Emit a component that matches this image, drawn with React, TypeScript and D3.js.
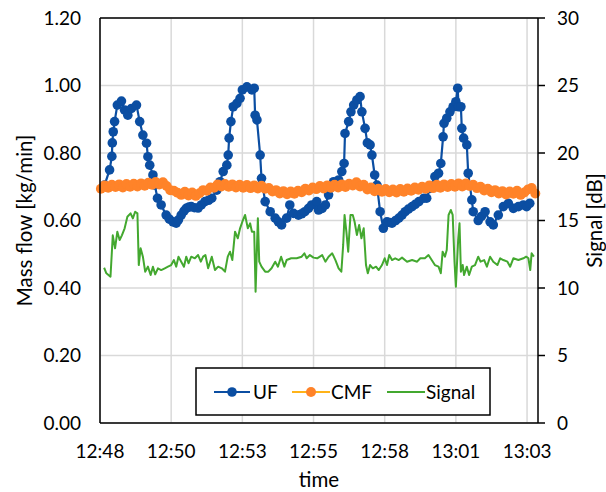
import { useMemo } from "react";
import * as d3 from "d3";

const WIDTH = 606;
const HEIGHT = 492;
const MARGIN = { top: 18, right: 68, bottom: 69, left: 100 };
const FONT = "Lato, 'Open Sans', sans-serif";
const TICK_FS = 19;
const TITLE_FS = 20.5;

// seconds after 12:48:00
const timeTickSec = [0, 156, 312, 468, 624, 780, 936];
const timeTickLabels = ["12:48", "12:50", "12:53", "12:55", "12:58", "13:01", "13:03"];
const massTicks = [0, 0.2, 0.4, 0.6, 0.8, 1.0, 1.2];
const dbTicks = [0, 5, 10, 15, 20, 25, 30];

const ufSec = [
  10, 21, 26, 27, 29, 32, 38, 47, 54, 61, 69, 80, 87, 94, 102, 105, 109, 116, 120, 126,
  134, 145, 152, 160, 167, 172, 178, 184, 189, 195, 200, 207, 215, 222, 230, 238, 245, 256, 263, 270,
  278, 281, 283, 287, 292, 300, 307, 312, 322, 333, 338, 340, 344, 351, 354, 362, 373, 384, 391, 398,
  409, 416, 424, 435, 442, 449, 457, 464, 475, 479, 487, 494, 501, 512, 523, 530, 535, 537, 545, 550,
  556, 563, 570, 574, 581, 586, 592, 596, 602, 607, 614, 621, 629, 635, 640, 648, 655, 662, 669, 676,
  684, 691, 699, 710, 716, 723, 734, 742, 747, 752, 754, 760, 767, 774, 780, 784, 786, 791, 793, 797,
  804, 807, 815, 818, 829, 836, 844, 855, 862, 873, 884, 895, 906, 917, 928, 935, 942,
];
const ufMass = [
  0.705, 0.75, 0.79, 0.83, 0.863, 0.893, 0.942, 0.954, 0.927, 0.912, 0.932, 0.942, 0.893, 0.853, 0.829, 0.789, 0.764, 0.735, 0.705, 0.666,
  0.646, 0.616, 0.604, 0.596, 0.592, 0.602, 0.616, 0.628, 0.636, 0.64, 0.641, 0.638, 0.637, 0.646, 0.656, 0.66, 0.666, 0.69, 0.715, 0.745,
  0.764, 0.794, 0.844, 0.893, 0.937, 0.947, 0.962, 0.987, 0.996, 0.987, 0.992, 0.912, 0.898, 0.794, 0.725, 0.656, 0.626, 0.607, 0.596, 0.587,
  0.607, 0.646, 0.621, 0.616, 0.62, 0.626, 0.636, 0.646, 0.656, 0.631, 0.636, 0.646, 0.676, 0.715, 0.72, 0.745, 0.769, 0.858, 0.893, 0.922,
  0.942, 0.957, 0.967, 0.922, 0.873, 0.83, 0.824, 0.794, 0.735, 0.705, 0.626, 0.577, 0.596, 0.594, 0.592, 0.6, 0.607, 0.616, 0.626, 0.634,
  0.641, 0.648, 0.656, 0.666, 0.666, 0.695, 0.73, 0.74, 0.769, 0.848, 0.888, 0.903, 0.922, 0.937, 0.952, 0.992, 0.937, 0.937, 0.873, 0.844,
  0.824, 0.74, 0.661, 0.626, 0.6, 0.612, 0.626, 0.596, 0.587, 0.616, 0.641, 0.651, 0.636, 0.641, 0.646, 0.641, 0.651,
];

const CMF_START = 2;
const CMF_STEP = 8;
const cmfMass = [
  0.694, 0.704, 0.697, 0.706, 0.699, 0.707, 0.698, 0.708, 0.7, 0.709, 0.701, 0.71, 0.703,
  0.712, 0.706, 0.714, 0.707, 0.713,
  0.702, 0.69, 0.688,
  0.682, 0.676, 0.685, 0.674, 0.683, 0.673, 0.681,
  0.69, 0.688, 0.698, 0.697, 0.707, 0.701, 0.708,
  0.7, 0.707, 0.698, 0.706, 0.697, 0.705, 0.696, 0.704, 0.695, 0.703, 0.694,
  0.696, 0.686, 0.69, 0.68, 0.687, 0.678, 0.686, 0.679, 0.688, 0.684,
  0.694, 0.689, 0.698, 0.693, 0.702,
  0.695, 0.704, 0.697, 0.706, 0.698, 0.707, 0.699, 0.709, 0.704, 0.713,
  0.701, 0.706, 0.692, 0.698, 0.687, 0.694, 0.685, 0.693, 0.684, 0.692, 0.683, 0.693, 0.685, 0.695, 0.688, 0.698, 0.691,
  0.7, 0.694, 0.704, 0.696, 0.706, 0.697, 0.707, 0.699, 0.708, 0.7, 0.71, 0.701, 0.71, 0.702,
  0.706, 0.696, 0.7, 0.689, 0.694, 0.684, 0.69, 0.68, 0.687, 0.677, 0.686, 0.679, 0.688, 0.676, 0.683, 0.692, 0.696, 0.68,
];

const sigSec = [
  9, 14, 23, 28, 33, 38, 43, 48, 54, 60, 67, 72, 77, 82, 85, 89, 94, 99, 105, 111,
  116, 121, 127, 134, 142, 149, 156, 162, 167, 172, 178, 184, 189, 194, 200, 208, 215, 221, 226, 231,
  237, 245, 252, 259, 267, 274, 280, 285, 290, 296, 302, 307, 312, 318, 324, 329, 333, 338, 341, 346,
  349, 354, 362, 369, 376, 384, 390, 397, 404, 409, 419, 431, 442, 448, 453, 460, 468, 476, 487, 494,
  501, 509, 516, 523, 529, 533, 536, 540, 544, 549, 554, 558, 563, 568, 573, 578, 583, 587, 592, 598,
  605, 611, 618, 624, 629, 634, 640, 647, 655, 662, 673, 684, 695, 702, 712, 720, 727, 734, 742, 747,
  751, 756, 760, 764, 769, 773, 777, 780, 785, 788, 791, 795, 798, 804, 809, 815, 822, 829, 834, 842,
  848, 855, 862, 871, 877, 884, 893, 899, 906, 917, 928, 934, 939, 943, 946, 951,
];
const sigDb = [
  11.5, 11.09, 10.84, 13.9, 12.94, 14.17, 13.56, 13.9, 14.42, 15.28, 15.53, 15.16, 15.65, 15.53, 11.7, 12.94, 12.32, 11.21, 11.58, 10.96,
  11.58, 11.01, 11.46, 11.33, 11.46, 11.58, 11.7, 12.07, 11.58, 12.32, 11.95, 11.58, 12.32, 11.83, 12.32, 12.2, 12.44, 11.95, 12.32, 12.44,
  11.46, 12.32, 11.33, 11.58, 11.46, 11.21, 12.32, 12.69, 12.07, 14.17, 13.68, 14.42, 14.91, 15.41, 14.42, 14.79, 14.17, 14.17, 9.73, 15.16,
  11.95, 11.58, 11.21, 11.21, 11.46, 11.95, 11.58, 12.32, 11.58, 12.07, 12.2, 12.2, 12.32, 12.57, 12.2, 12.44, 12.25, 12.2, 12.44, 11.95,
  12.32, 12.57, 12.07, 11.46, 11.21, 13.19, 15.41, 14.17, 12.69, 15.41, 15.41, 14.91, 13.93, 14.67, 13.68, 14.42, 11.7, 11.09, 11.7, 11.46,
  11.58, 11.33, 11.7, 12.2, 11.7, 12.44, 12.07, 12.2, 12.07, 12.25, 11.95, 12.07, 11.95, 12.2, 12.2, 12.44, 12.07, 11.7, 11.58, 11.09,
  12.69, 12.32, 12.81, 15.41, 15.78, 15.41, 11.95, 10.1, 13.56, 14.79, 11.21, 11.7, 10.96, 11.58, 10.96, 11.58, 11.7, 12.32, 11.95, 12.07,
  11.58, 12.32, 11.95, 11.7, 12.2, 12.07, 11.95, 11.58, 12.2, 12.07, 12.2, 12.32, 12.2, 11.33, 12.57, 12.32,
];

const UF_COLOR = "#0B4EA2";
const CMF_COLOR = "#FF8329";
const CMF_LINE = "#FFB319";
const SIG_COLOR = "#43A82F";
const GRID = "#D9D9D9";

export default function App() {
  const boundsWidth = WIDTH - MARGIN.left - MARGIN.right;
  const boundsHeight = HEIGHT - MARGIN.top - MARGIN.bottom;

  const xScale = useMemo(() => d3.scaleLinear().domain([0, 960]).range([0, boundsWidth]), [boundsWidth]);
  const yMass = useMemo(() => d3.scaleLinear().domain([0, 1.2]).range([boundsHeight, 0]), [boundsHeight]);
  const yDb = useMemo(() => d3.scaleLinear().domain([0, 30]).range([boundsHeight, 0]), [boundsHeight]);

  const ufPath = d3.line<number>().x((_, i) => xScale(ufSec[i])).y((d) => yMass(d))(ufMass) ?? "";
  const cmfPath =
    d3.line<number>().x((_, i) => xScale(CMF_START + i * CMF_STEP)).y((d) => yMass(d))(cmfMass) ?? "";
  const sigPath = d3.line<number>().x((_, i) => xScale(sigSec[i])).y((d) => yDb(d))(sigDb) ?? "";

  const legendY = 374;

  return (
    <svg
      width={WIDTH}
      height={HEIGHT}
      style={{ position: "absolute", left: 0, top: 0, background: "#fff" }}
      fontFamily={FONT}
    >
      <g transform={`translate(${MARGIN.left}, ${MARGIN.top})`}>
        {/* grid */}
        {massTicks.map((t) => (
          <line key={"h" + t} x1={0} x2={boundsWidth} y1={yMass(t)} y2={yMass(t)} stroke={GRID} strokeWidth={1.5} />
        ))}
        {timeTickSec.map((t) => (
          <line key={"v" + t} x1={xScale(t)} x2={xScale(t)} y1={0} y2={boundsHeight} stroke={GRID} strokeWidth={1.5} />
        ))}

        {/* series */}
        <path d={ufPath} fill="none" stroke={UF_COLOR} strokeWidth={2.2} />
        {ufMass.map((v, i) => (
          <circle key={"u" + i} cx={xScale(ufSec[i])} cy={yMass(v)} r={4.8} fill={UF_COLOR} />
        ))}
        <path d={cmfPath} fill="none" stroke={CMF_LINE} strokeWidth={2} />
        {cmfMass.map((v, i) => (
          <circle key={"c" + i} cx={xScale(CMF_START + i * CMF_STEP)} cy={yMass(v)} r={5} fill={CMF_COLOR} />
        ))}
        <path d={sigPath} fill="none" stroke={SIG_COLOR} strokeWidth={2} strokeLinejoin="round" />

        {/* frame */}
        <line x1={0} x2={boundsWidth} y1={0} y2={0} stroke="#000" strokeWidth={1.5} />
        <line x1={0} x2={boundsWidth} y1={boundsHeight} y2={boundsHeight} stroke="#000" strokeWidth={1.5} />
        <line x1={0} x2={0} y1={0} y2={boundsHeight} stroke="#000" strokeWidth={1.5} />
        <line x1={boundsWidth} x2={boundsWidth} y1={0} y2={boundsHeight} stroke="#000" strokeWidth={1.5} />

        {/* left axis labels */}
        {massTicks.map((t) => (
          <text key={"l" + t} x={-19} y={yMass(t)} dy="0.35em" textAnchor="end" fontSize={TICK_FS} fill="#000">
            {t.toFixed(2)}
          </text>
        ))}
        {/* right axis ticks + labels */}
        {dbTicks.map((t) => (
          <g key={"r" + t}>
            <line x1={boundsWidth} x2={boundsWidth + 7} y1={yDb(t)} y2={yDb(t)} stroke="#000" strokeWidth={1.5} />
            <text x={boundsWidth + 19} y={yDb(t)} dy="0.35em" textAnchor="start" fontSize={TICK_FS} fill="#000">
              {t}
            </text>
          </g>
        ))}
        {/* x labels */}
        {timeTickSec.map((t, i) => (
          <text key={"x" + t} x={xScale(t)} y={boundsHeight + 35} textAnchor="middle" fontSize={TICK_FS} fill="#000">
            {timeTickLabels[i]}
          </text>
        ))}

        {/* titles */}
        <text x={boundsWidth / 2} y={boundsHeight + 64} textAnchor="middle" fontSize={TITLE_FS}>
          time
        </text>
        <text
          transform={`translate(${-68}, ${boundsHeight / 2}) rotate(-90)`}
          textAnchor="middle"
          fontSize={TITLE_FS}
        >
          Mass flow [kg/min]
        </text>
        <text
          transform={`translate(${boundsWidth + 64}, ${boundsHeight / 2}) rotate(-90)`}
          textAnchor="middle"
          fontSize={TITLE_FS}
        >
          Signal [dB]
        </text>

        {/* legend */}
        <rect x={96} y={350} width={294} height={47} fill="#fff" stroke="#000" strokeWidth={1.5} />
        <line x1={114} x2={150} y1={legendY} y2={legendY} stroke={UF_COLOR} strokeWidth={2.2} />
        <circle cx={132} cy={legendY} r={4.8} fill={UF_COLOR} />
        <text x={153} y={legendY} dy="0.35em" fontSize={TICK_FS}>UF</text>
        <line x1={192} x2={230} y1={legendY} y2={legendY} stroke={CMF_LINE} strokeWidth={2} />
        <circle cx={211} cy={legendY} r={5} fill={CMF_COLOR} />
        <text x={231} y={legendY} dy="0.35em" fontSize={TICK_FS}>CMF</text>
        <line x1={287} x2={325} y1={legendY} y2={legendY} stroke={SIG_COLOR} strokeWidth={2} />
        <text x={326} y={legendY} dy="0.35em" fontSize={TICK_FS}>Signal</text>
      </g>
    </svg>
  );
}
